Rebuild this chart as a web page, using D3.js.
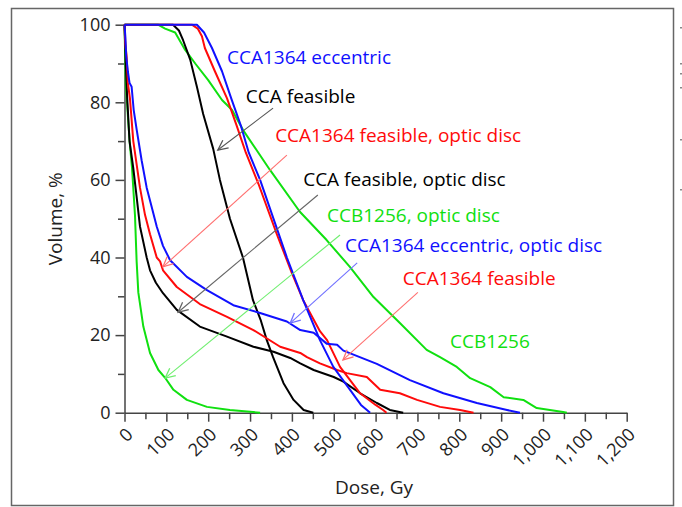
<!DOCTYPE html>
<html>
<head>
<meta charset="utf-8">
<script src="https://cdn.jsdelivr.net/npm/d3@7"></script>
<style>
  body { margin: 0; background: #fff; }
  svg text { font-family: 'Open Sans', sans-serif; }
</style>
</head>
<body>
<div id="chart"></div>
<script>
// dose (Gy) / volume (%) pairs
const ccb1256Dose = [0, 80, 97, 121, 145, 169, 200, 233, 257, 283, 348, 419, 483, 539, 595, 658, 722, 754, 794, 826, 874, 906, 953, 985, 1048, 1057];
const ccb1256Vol = [100, 100, 99, 98, 93.5, 90, 85.7, 80.6, 78, 72.9, 62.5, 51.8, 44.5, 37.5, 29.8, 23.1, 16.2, 14.3, 11.8, 8.9, 6.6, 4, 3.3, 1.2, 0.2, 0];

const ccb1256OdDose = [0, 1, 3, 6, 9, 13, 18, 25, 29, 33, 45, 61, 81, 97, 117, 149, 197, 252, 324];
const ccb1256OdVol = [100, 95, 85, 80, 75, 69, 63, 51, 39, 31, 22.2, 15.4, 11, 9, 5.9, 3.3, 1.5, 0.7, 0];

const ccaFeasDose = [0, 116, 130, 140, 157, 173, 188, 212, 228, 252, 283, 307, 325, 340, 355, 380, 404, 428, 451];
const ccaFeasVol = [100, 100, 98.5, 96, 91, 84, 77, 68, 60, 50, 40, 29, 24, 18.7, 14.3, 7.6, 3.3, 0.7, 0];

const ccaFeasOdDose = [0, 3, 6, 8, 12, 21, 29, 37, 53, 61, 75, 92, 125, 180, 245, 308, 356, 396, 420, 452, 500, 523, 563, 603, 634, 666];
const ccaFeasOdVol = [100, 90, 82, 78, 70, 63, 55.6, 48, 40, 36.7, 33.5, 30.8, 26.5, 22.2, 19.6, 17, 15.7, 14.1, 12.7, 11, 9.2, 8, 5, 2.5, 0.7, 0];

const cca1364FeasDose = [0, 161, 175, 185, 192, 216, 245, 268, 290, 320, 364, 400, 427, 467, 484, 515, 563, 600, 618, 626];
const cca1364FeasVol = [100, 100, 99, 97, 94, 88, 81, 74, 67, 59, 46, 36, 29, 21, 18.7, 11.8, 5, 2, 0.7, 0];

const cca1364FeasOdDose = [0, 2, 5, 8, 13, 21, 37, 49, 61, 77, 85, 92, 125, 180, 245, 308, 372, 420, 436, 467, 508, 531, 579, 611, 658, 699, 754, 802, 834];
const cca1364FeasOdVol = [100, 95, 92, 85, 81, 70, 58, 51, 46, 40, 39, 36.7, 32.4, 28, 24.7, 21.3, 17, 15.4, 14.3, 12.7, 11, 10.2, 9.2, 5.9, 5, 3.3, 1.5, 0.7, 0];

const cca1364EccDose = [0, 173, 190, 209, 233, 255, 278, 297, 324, 388, 427, 467, 499, 539, 565, 587];
const cca1364EccVol = [100, 100, 98, 94, 88, 81, 74, 67, 60, 40, 29, 18.7, 11.8, 5.9, 2, 0];

const cca1364EccOdDose = [0, 2, 4, 8, 12, 17, 22, 29, 41, 53, 65, 77, 92, 109, 149, 197, 260, 324, 388, 420, 452, 483, 508, 523, 603, 682, 762, 842, 914, 945];
const cca1364EccOdVol = [100, 97, 92, 88, 85, 84, 78, 73, 65, 58, 53, 48, 43, 39.3, 35, 31.6, 27.7, 25.7, 23.5, 21.3, 20.6, 17.8, 17.5, 16, 12.6, 8.4, 5, 2.5, 0.7, 0];

const xTicks = d3.range(0, 1201, 100);
const xMinorTicks = d3.range(50, 1200, 100);
const yTicks = d3.range(0, 101, 20);
const yMinorTicks = d3.range(10, 100, 20);

// label text, where it sits and where its arrow runs (dose, volume)
const labels = ['CCA1364 eccentric', 'CCA feasible', 'CCA1364 feasible, optic disc', 'CCA feasible, optic disc',
  'CCB1256, optic disc', 'CCA1364 eccentric, optic disc', 'CCA1364 feasible', 'CCB1256'];
const labelAt = [[245, 89.9], [290, 79.8], [360, 69.8], [427, 58.4], [484, 49.1], [527, 41.4], [665, 32.9], [778, 16.7]];
const arrowFrom = [null, [355, 78.5], [388, 66.4], [462, 56.1], [515, 45.8], [556, 38.6], [701, 31], null];
const arrowTo = [null, [223, 67.7], [92, 37.6], [128, 25.9], [97, 8.9], [396, 23.1], [522, 13.6], null];

const blue = '#1010ff', red = '#ff0a0a', green = '#10e010', black = '#000';
const labelColor = [blue, black, red, black, green, blue, red, green];
const arrowColor = [null, '#555', '#ff7070', '#666', '#70ee70', '#7070ff', '#ff7070', null];

const series = [
  { d: ccb1256Dose, v: ccb1256Vol, c: green },
  { d: ccb1256OdDose, v: ccb1256OdVol, c: green },
  { d: ccaFeasDose, v: ccaFeasVol, c: black },
  { d: ccaFeasOdDose, v: ccaFeasOdVol, c: black },
  { d: cca1364FeasDose, v: cca1364FeasVol, c: red },
  { d: cca1364FeasOdDose, v: cca1364FeasOdVol, c: red },
  { d: cca1364EccOdDose, v: cca1364EccOdVol, c: blue },
  { d: cca1364EccDose, v: cca1364EccVol, c: blue }
];

const width = 682, height = 507;
const svg = d3.select('#chart').append('svg')
  .attr('width', width)
  .attr('height', height);

svg.append('rect')
  .attr('x', 11.5).attr('y', 8.5)
  .attr('width', 662).attr('height', 497)
  .attr('fill', 'none').attr('stroke', '#666').attr('stroke-width', 1.5);

const x = d3.scaleLinear().domain([0, 1200]).range([124.5, 626.7]);
const y = d3.scaleLinear().domain([0, 100]).range([412.7, 24.7]);

const axisColor = '#444';

// minor ticks first, then major on top
svg.append('g')
  .attr('transform', `translate(0,${y(0)})`)
  .call(d3.axisBottom(x).tickValues(xMinorTicks).tickSize(6.5).tickSizeOuter(0).tickFormat(''))
  .call(g => g.select('.domain').remove());
svg.append('g')
  .attr('transform', `translate(${x(0)},0)`)
  .call(d3.axisLeft(y).tickValues(yMinorTicks).tickSize(6.5).tickSizeOuter(0).tickFormat(''))
  .call(g => g.select('.domain').remove());

const xAxis = svg.append('g')
  .attr('transform', `translate(0,${y(0)})`)
  .call(d3.axisBottom(x).tickValues(xTicks).tickSize(9).tickSizeOuter(0).tickFormat(d3.format(',')));
xAxis.selectAll('.tick text')
  .attr('font-size', 18)
  .attr('fill', '#222')
  .attr('text-anchor', 'end')
  .attr('y', 0).attr('dy', 0)
  .attr('transform', 'translate(9,23) rotate(-45)');

const yAxis = svg.append('g')
  .attr('transform', `translate(${x(0)},0)`)
  .call(d3.axisLeft(y).tickValues(yTicks).tickSize(9).tickSizeOuter(0));
yAxis.selectAll('.tick text')
  .attr('font-size', 18)
  .attr('fill', '#222')
  .attr('x', -14);

svg.selectAll('.domain, .tick line').attr('stroke', axisColor).attr('stroke-width', 1.5);

svg.append('text')
  .attr('transform', `translate(62,${(y(0) + y(100)) / 2}) rotate(-90)`)
  .attr('text-anchor', 'middle')
  .attr('font-size', 19)
  .attr('fill', '#222')
  .text('Volume, %');

svg.append('text')
  .attr('x', 374).attr('y', 494)
  .attr('text-anchor', 'middle')
  .attr('font-size', 19)
  .attr('fill', '#222')
  .text('Dose, Gy');

const line = d3.line()
  .x(p => x(p[0]))
  .y(p => y(p[1]));

svg.append('g')
  .selectAll('path')
  .data(series)
  .enter()
  .append('path')
  .attr('d', s => line(s.d.map((dv, i) => [dv, s.v[i]])))
  .attr('fill', 'none')
  .attr('stroke', s => s.c)
  .attr('stroke-width', 2)
  .attr('stroke-linejoin', 'round');

// arrows
const arrows = svg.append('g');
for (let i = 0; i < labels.length; i++) {
  if (!arrowFrom[i]) continue;
  const x1 = x(arrowFrom[i][0]), y1 = y(arrowFrom[i][1]);
  const x2 = x(arrowTo[i][0]), y2 = y(arrowTo[i][1]);
  const ang = Math.atan2(y2 - y1, x2 - x1);
  const len = 11, spread = 0.45;
  arrows.append('line')
    .attr('x1', x1).attr('y1', y1).attr('x2', x2).attr('y2', y2)
    .attr('stroke', arrowColor[i]).attr('stroke-width', 1.1);
  arrows.append('path')
    .attr('d', `M${x2 - len * Math.cos(ang - spread)},${y2 - len * Math.sin(ang - spread)}L${x2},${y2}L${x2 - len * Math.cos(ang + spread)},${y2 - len * Math.sin(ang + spread)}`)
    .attr('fill', 'none')
    .attr('stroke', arrowColor[i]).attr('stroke-width', 1.3);
}

svg.append('g')
  .selectAll('text')
  .data(labels)
  .enter()
  .append('text')
  .attr('x', (t, i) => x(labelAt[i][0]))
  .attr('y', (t, i) => y(labelAt[i][1]))
  .attr('font-size', 19)
  .attr('fill', (t, i) => labelColor[i])
  .text(t => t);

// clipped bits of a neighbouring figure at the right edge
const edgeMarks = [28, 64, 74, 88, 140, 190];
svg.append('g')
  .selectAll('rect')
  .data(edgeMarks)
  .enter()
  .append('rect')
  .attr('x', 680).attr('y', d => d - 1)
  .attr('width', 2).attr('height', 1.5)
  .attr('fill', '#888');
</script>
</body>
</html>
